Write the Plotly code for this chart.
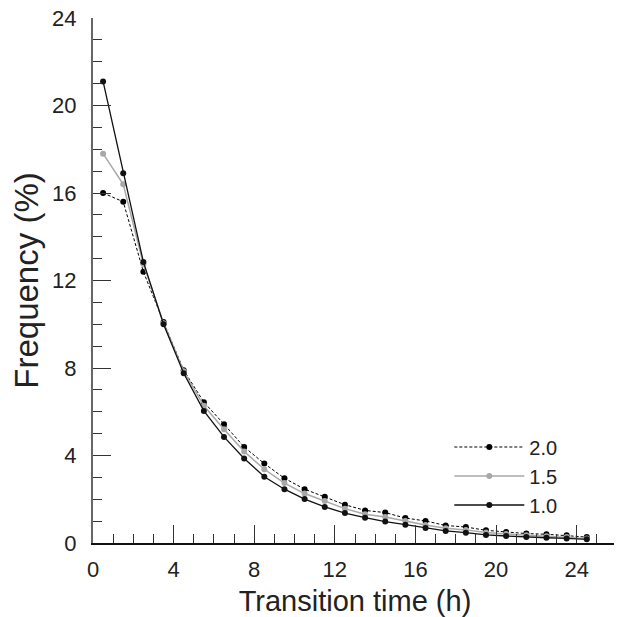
import plotly.graph_objects as go

# bin centres (h)
hours = [0.5, 1.5, 2.5, 3.5, 4.5, 5.5, 6.5, 7.5, 8.5, 9.5, 10.5, 11.5, 12.5,
         13.5, 14.5, 15.5, 16.5, 17.5, 18.5, 19.5, 20.5, 21.5, 22.5, 23.5, 24.5]

freq_20 = [16.0, 15.6, 12.4, 10.1, 7.9, 6.44, 5.43, 4.39, 3.63, 2.96, 2.46, 2.12, 1.75,
           1.49, 1.39, 1.14, 1.01, 0.80, 0.73, 0.58, 0.50, 0.43, 0.40, 0.35, 0.27]
freq_15 = [17.8, 16.4, 12.75, 10.05, 7.85, 6.27, 5.2, 4.18, 3.37, 2.74, 2.26, 1.92, 1.57,
           1.31, 1.19, 1.01, 0.82, 0.68, 0.60, 0.48, 0.41, 0.35, 0.31, 0.27, 0.21]
freq_10 = [21.1, 16.9, 12.85, 10.0, 7.76, 6.04, 4.85, 3.86, 3.03, 2.46, 2.01, 1.65, 1.37,
           1.16, 0.98, 0.84, 0.69, 0.55, 0.47, 0.37, 0.32, 0.27, 0.24, 0.21, 0.17]

fig = go.Figure()
fig.add_trace(go.Scatter(x=hours, y=freq_20, name="2.0", mode="lines+markers",
                         line=dict(color="black", width=1, dash="3px,2px"),
                         marker=dict(color="black", size=6)))
fig.add_trace(go.Scatter(x=hours, y=freq_15, name="1.5", mode="lines+markers",
                         line=dict(color="#a8a8a8", width=1.5),
                         marker=dict(color="#a8a8a8", size=6)))
fig.add_trace(go.Scatter(x=hours, y=freq_10, name="1.0", mode="lines+markers",
                         line=dict(color="#111111", width=1.3),
                         marker=dict(color="#111111", size=6)))

# the page body adds an 8px offset, margins account for it
font = "Liberation Sans, Arial, sans-serif"
fig.update_layout(
    width=622, height=617,
    margin=dict(l=85, r=13, t=10, b=82),
    plot_bgcolor="white", paper_bgcolor="white",
    font=dict(family=font, size=22, color="#222"),
    legend=dict(x=0.68, y=0.22, xanchor="left", yanchor="top",
                font=dict(size=20), itemwidth=70, tracegroupgap=0,
                bgcolor="rgba(0,0,0,0)"),
    showlegend=True,
)
fig.update_xaxes(
    range=[0, 26], tick0=0, dtick=4, showgrid=False, zeroline=False,
    showline=True, linecolor="#111", linewidth=2, automargin=False,
    ticks="inside", ticklen=18, tickcolor="#333", tickwidth=1.3,
    minor=dict(ticks="inside", ticklen=9, dtick=1, tickcolor="#333", tickwidth=1.3),
    ticklabelstandoff=6, ticklabeloverflow="allow",
    title=dict(text="Transition time (h)", font=dict(size=29), standoff=9),
)
fig.update_yaxes(
    range=[0, 24], tick0=0, dtick=4, showgrid=False, zeroline=False,
    showline=True, linecolor="#666", linewidth=2, automargin=False,
    ticks="inside", ticklen=18, tickcolor="#333", tickwidth=1.3,
    minor=dict(ticks="inside", ticklen=9, dtick=1, tickcolor="#333", tickwidth=1.3),
    ticklabelstandoff=10, ticklabeloverflow="allow",
    title=dict(text="Frequency (%)", font=dict(size=33), standoff=8),
)

fig.write_html("out.html")
